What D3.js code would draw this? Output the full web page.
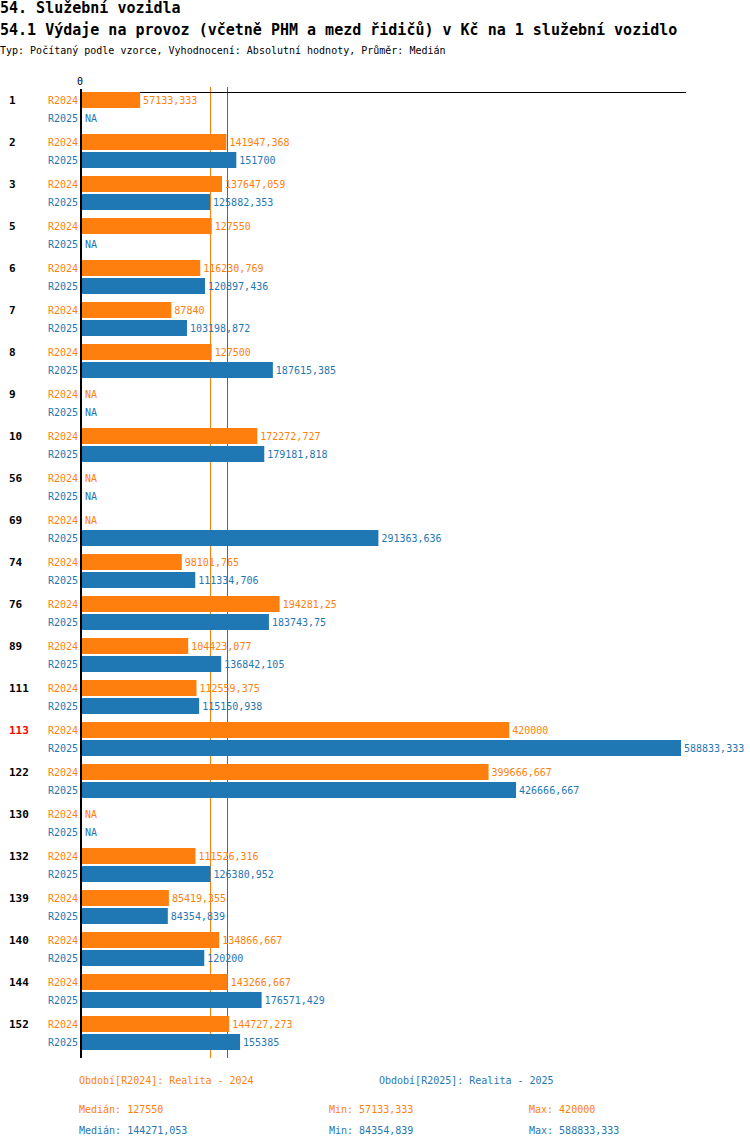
<!DOCTYPE html>
<html>
<head>
<meta charset="utf-8">
<script src="https://cdn.jsdelivr.net/npm/d3@7"></script>
<style>
  body { margin: 0; background: #fff; }
  text { font-family: "DejaVu Sans Mono", monospace; }
</style>
</head>
<body>
<div id="chart"></div>
<script>
const categories = ["1", "2", "3", "5", "6", "7", "8", "9", "10", "56", "69", "74", "76", "89",
  "111", "113", "122", "130", "132", "139", "140", "144", "152"];
const highlighted = ["113"];
const seriesNames = ["R2024", "R2025"];
const r2024 = [57133.333, 141947.368, 137647.059, 127550, 116230.769, 87840, 127500, null,
  172272.727, null, null, 98101.765, 194281.25, 104423.077, 112559.375, 420000, 399666.667,
  null, 111526.316, 85419.355, 134866.667, 143266.667, 144727.273];
const r2025 = [null, 151700, 125882.353, null, 120897.436, 103198.872, 187615.385, null,
  179181.818, null, 291363.636, 111334.706, 183743.75, 136842.105, 115150.938, 588833.333,
  426666.667, null, 126380.952, 84354.839, 120200, 176571.429, 155385];
const legendLabels = ["Období[R2024]: Realita - 2024", "Období[R2025]: Realita - 2025"];
const xTicks = [0];

const colors = ["#ff7f0e", "#1f77b4"];
const series = [r2024, r2025];

const width = 750, height = 1148;
const svg = d3.select("#chart").append("svg")
  .attr("width", width)
  .attr("height", height);

// titles
svg.append("text").attr("x", 0).attr("y", 13)
  .style("font-size", "15px").style("font-weight", "bold")
  .text("54. Služební vozidla");
svg.append("text").attr("x", 0).attr("y", 35)
  .style("font-size", "15px").style("font-weight", "bold")
  .text("54.1 Výdaje na provoz (včetně PHM a mezd řidičů) v Kč na 1 služební vozidlo");
svg.append("text").attr("x", 0).attr("y", 54)
  .style("font-size", "10px")
  .text("Typ: Počítaný podle vzorce, Vyhodnocení: Absolutní hodnoty, Průměr: Medián");

// Czech decimal comma, max 3 decimals (epsilon avoids float rounding down)
const fmt = v => d3.format(".3~f")(v + 1e-7).replace(".", ",");

const maxVal = d3.max(series.flat().filter(v => v != null));
const x = d3.scaleLinear().domain([0, maxVal]).range([82, 681]);

const y = d3.scaleBand()
  .domain(categories)
  .range([92, 92 + 42 * (categories.length - 8 / 42)])
  .paddingInner(8 / 42)
  .paddingOuter(0)
  .align(0);

const ySub = d3.scaleBand()
  .domain(seriesNames)
  .range([0, y.bandwidth()])
  .paddingInner(1 / 9);

const medians = series.map(arr => d3.median(arr.filter(v => v != null)));
const mins = series.map(arr => d3.min(arr.filter(v => v != null)));
const maxs = series.map(arr => d3.max(arr.filter(v => v != null)));

// median lines (behind bars)
svg.selectAll(".median").data(medians).enter().append("line")
  .attr("x1", d => Math.round(x(d)) - 1.5).attr("x2", d => Math.round(x(d)) - 1.5)
  .attr("y1", 87).attr("y2", 1058)
  .attr("stroke", (d, i) => colors[i]).attr("stroke-width", 1);

// top axis
svg.append("line")
  .attr("x1", 80).attr("x2", 686).attr("y1", 92.5).attr("y2", 92.5)
  .attr("stroke", "#000").attr("stroke-width", 1);
svg.selectAll(".xtick").data(xTicks).enter().append("text")
  .attr("x", d => x(d) - 2).attr("y", 81)
  .attr("dy", "0.35em").attr("text-anchor", "middle")
  .style("font-size", "10px")
  .text(d => d);

// bars, labels
categories.forEach((cat, i) => {
  const g = svg.append("g").attr("transform", `translate(0,${y(cat)})`);

  g.append("text")
    .attr("x", 9).attr("y", ySub("R2024") + ySub.bandwidth() / 2)
    .attr("dy", "0.35em")
    .style("font-size", "11px").style("font-weight", "bold")
    .attr("fill", highlighted.includes(cat) ? "#ff0000" : "#000")
    .text(cat);

  seriesNames.forEach((name, s) => {
    const v = series[s][i];
    const yy = ySub(name);
    g.append("text")
      .attr("x", 78).attr("y", yy + ySub.bandwidth() / 2)
      .attr("dy", "0.35em").attr("text-anchor", "end")
      .style("font-size", "10px")
      .attr("fill", colors[s])
      .text(name);
    if (v != null) {
      g.append("rect")
        .attr("x", x(0)).attr("y", yy)
        .attr("width", x(v) - x(0)).attr("height", ySub.bandwidth())
        .attr("fill", colors[s]);
    }
    g.append("text")
      .attr("x", (v != null ? x(v) : x(0)) + 3).attr("y", yy + ySub.bandwidth() / 2)
      .attr("dy", "0.35em")
      .style("font-size", "10px")
      .attr("fill", colors[s])
      .text(v != null ? fmt(v) : "NA");
  });
});

// zero axis
svg.append("line")
  .attr("x1", 81).attr("x2", 81).attr("y1", 89).attr("y2", 1058)
  .attr("stroke", "#000").attr("stroke-width", 2);

// legend
svg.selectAll(".legend").data(legendLabels).enter().append("text")
  .attr("x", (d, i) => i === 0 ? 79 : 379).attr("y", 1080)
  .attr("dy", "0.35em")
  .style("font-size", "10px")
  .attr("fill", (d, i) => colors[i])
  .text(d => d);

// stats
seriesNames.forEach((name, s) => {
  const yy = 1109 + s * 21;
  const stats = [["Medián: ", medians[s], 79], ["Min: ", mins[s], 329], ["Max: ", maxs[s], 529]];
  stats.forEach(([lbl, v, xx]) => {
    svg.append("text")
      .attr("x", xx).attr("y", yy).attr("dy", "0.35em")
      .style("font-size", "10px")
      .attr("fill", colors[s])
      .text(lbl + fmt(v));
  });
});
</script>
</body>
</html>
